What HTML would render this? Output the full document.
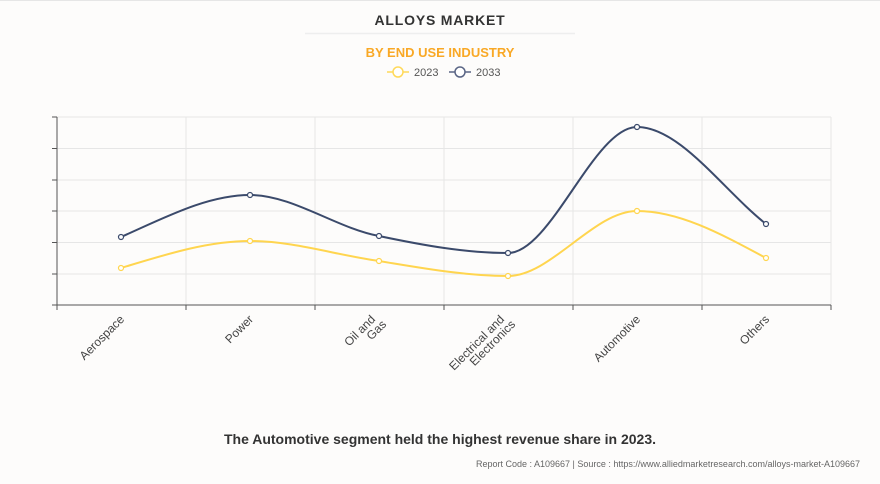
<!DOCTYPE html>
<html><head><style>
body{margin:0;background:#fdfcfb;font-family:"Liberation Sans",sans-serif;}
</style></head><body>
<svg width="880" height="484" viewBox="0 0 880 484" xmlns="http://www.w3.org/2000/svg" style="display:block">
<rect width="880" height="484" fill="#fdfcfb"/>
<line x1="0" y1="0.5" x2="880" y2="0.5" stroke="#e6e6e6"/>
<text x="440" y="25" text-anchor="middle" font-size="14" font-weight="bold" fill="#333" letter-spacing="0.8">ALLOYS MARKET</text>
<line x1="305" y1="33.5" x2="575" y2="33.5" stroke="#eee" stroke-width="1.5"/>
<text x="440" y="57" text-anchor="middle" font-size="13" font-weight="bold" fill="#f9a825">BY END USE INDUSTRY</text>
<line x1="387" y1="72" x2="409" y2="72" stroke="#ffd95a" stroke-width="1.5"/><circle cx="398" cy="72" r="5" fill="#fff" stroke="#ffd95a" stroke-width="1.5"/>
<text x="414" y="76" font-size="11" fill="#555">2023</text>
<line x1="449" y1="72" x2="471" y2="72" stroke="#5a6585" stroke-width="1.5"/><circle cx="460" cy="72" r="5" fill="#fff" stroke="#5a6585" stroke-width="1.5"/>
<text x="476" y="76" font-size="11" fill="#555">2033</text>
<g stroke="#e6e6e6" stroke-width="1">
<line x1="57" y1="117" x2="831" y2="117"/><line x1="57" y1="148.5" x2="831" y2="148.5"/><line x1="57" y1="180" x2="831" y2="180"/><line x1="57" y1="211" x2="831" y2="211"/><line x1="57" y1="242.5" x2="831" y2="242.5"/><line x1="57" y1="274" x2="831" y2="274"/>
<line x1="186" y1="117" x2="186" y2="305"/><line x1="315" y1="117" x2="315" y2="305"/><line x1="444" y1="117" x2="444" y2="305"/><line x1="573" y1="117" x2="573" y2="305"/><line x1="702" y1="117" x2="702" y2="305"/><line x1="831" y1="117" x2="831" y2="305"/>
</g>
<g stroke="#555" stroke-width="1">
<line x1="57" y1="117" x2="57" y2="305"/><line x1="57" y1="305" x2="831" y2="305"/>
<line x1="52" y1="117" x2="57" y2="117"/><line x1="52" y1="148.5" x2="57" y2="148.5"/><line x1="52" y1="180" x2="57" y2="180"/><line x1="52" y1="211" x2="57" y2="211"/><line x1="52" y1="242.5" x2="57" y2="242.5"/><line x1="52" y1="274" x2="57" y2="274"/><line x1="52" y1="305" x2="57" y2="305"/>
<line x1="57" y1="305" x2="57" y2="310"/><line x1="186" y1="305" x2="186" y2="310"/><line x1="315" y1="305" x2="315" y2="310"/><line x1="444" y1="305" x2="444" y2="310"/><line x1="573" y1="305" x2="573" y2="310"/><line x1="702" y1="305" x2="702" y2="310"/><line x1="831" y1="305" x2="831" y2="310"/>
</g>
<path d="M121,268 C164,255 207,241 250,241 C293,241 336,255 379,261 C422,268 465,276 508,276 C551,276 594,211 637,211 C680,211 723,235 766,258" fill="none" stroke="#ffd54f" stroke-width="2"/>
<path d="M121,237 C164,218 207,195 250,195 C293,195 336,228 379,236 C422,245 465,253 508,253 C551,253 594,127 637,127 C680,127 723,190 766,224" fill="none" stroke="#3b4a6b" stroke-width="2"/>
<g fill="#fff" stroke-width="1.2">
<g stroke="#ffd54f"><circle cx="121" cy="268" r="2.5"/><circle cx="250" cy="241" r="2.5"/><circle cx="379" cy="261" r="2.5"/><circle cx="508" cy="276" r="2.5"/><circle cx="637" cy="211" r="2.5"/><circle cx="766" cy="258" r="2.5"/></g>
<g stroke="#3b4a6b"><circle cx="121" cy="237" r="2.5"/><circle cx="250" cy="195" r="2.5"/><circle cx="379" cy="236" r="2.5"/><circle cx="508" cy="253" r="2.5"/><circle cx="637" cy="127" r="2.5"/><circle cx="766" cy="224" r="2.5"/></g>
</g>
<g font-size="12" fill="#444" text-anchor="end">
<text transform="translate(125,320) rotate(-45)">Aerospace</text>
<text transform="translate(254,320) rotate(-45)">Power</text>
<text transform="translate(376,320) rotate(-45)">Oil and</text>
<text transform="translate(387,325) rotate(-45)">Gas</text>
<text transform="translate(505,320) rotate(-45)">Electrical and</text>
<text transform="translate(516,325) rotate(-45)">Electronics</text>
<text transform="translate(641,320) rotate(-45)">Automotive</text>
<text transform="translate(770,320) rotate(-45)">Others</text>
</g>
<text x="440" y="444" text-anchor="middle" font-size="14" font-weight="bold" fill="#333">The Automotive segment held the highest revenue share in 2023.</text>
<text x="860" y="467" text-anchor="end" font-size="9" fill="#666">Report Code : A109667  |  Source : https://www.alliedmarketresearch.com/alloys-market-A109667</text>
</svg>
</body></html>
